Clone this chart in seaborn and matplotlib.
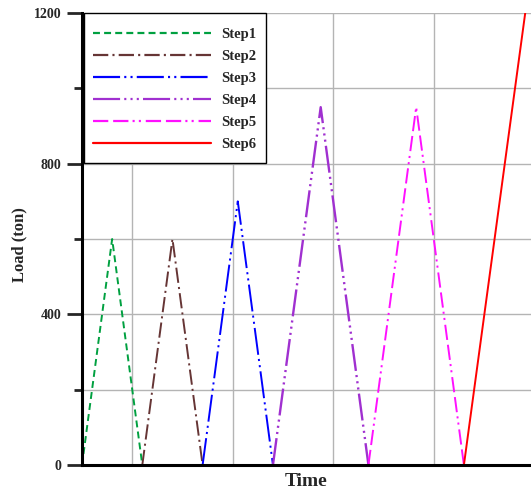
import matplotlib
matplotlib.use("Agg")
import matplotlib.pyplot as plt
import seaborn as sns
import pandas as pd

steps = ["Step1", "Step2", "Step3", "Step4", "Step5", "Step6"]
step_time = [[0, 6, 12], [12, 18, 24], [24, 31, 38], [38, 47.5, 57], [57, 66.5, 76], [76, 88.2]]
step_load = [[0, 600, 0], [0, 600, 0], [0, 700, 0], [0, 950, 0], [0, 950, 0], [0, 1200]]
colors = ["#00a040", "#663535", "#0000ff", "#a030d0", "#ff10ff", "#ff0000"]
yticks_major = [0, 400, 800, 1200]
yticks_minor = [200, 600, 1000]
xgrid = [10, 30, 50, 70]

rows = []
for s, ts, ls in zip(steps, step_time, step_load):
    for t, l in zip(ts, ls):
        rows.append({"Time": t, "Load": l, "Step": s})
df = pd.DataFrame(rows)

sns.set_theme(style="white")
plt.rcParams["font.family"] = ["Liberation Serif", "DejaVu Serif"]
plt.rcParams["font.weight"] = "bold"
plt.rcParams["lines.scale_dashes"] = False

dashes = {
    "Step1": (5, 3),
    "Step2": (11, 3, 1.5, 3),
    "Step3": (19.5, 3, 1.5, 3, 1.5, 3),
    "Step4": (19.5, 3, 1.5, 3, 1.5, 3, 1.5, 3),
    "Step5": (11, 3.5, 11, 3, 1.5, 3, 1.5, 3.5),
    "Step6": "",
}

fig = plt.figure(figsize=(5.31, 4.86), dpi=100)
ax = fig.add_axes([82 / 531, 21 / 486, 449 / 531, 452 / 486])

sns.lineplot(data=df, x="Time", y="Load", hue="Step", style="Step",
             palette=dict(zip(steps, colors)), dashes=dashes,
             linewidth=1.4, ax=ax, sort=False, estimator=None, legend=True)
for line in ax.get_lines():
    if line.get_color() == "#a030d0":
        line.set_linewidth(1.7)

ax.set_xlim(0, 89.35)
ax.set_ylim(0, 1200)
ax.set_yticks(yticks_major)
ax.set_yticklabels([str(v) for v in yticks_major], fontsize=10, fontweight="bold")
ax.set_yticks(yticks_minor, minor=True)
ax.set_xticks(xgrid)
ax.set_xticklabels([])
ax.tick_params(axis="x", length=0)
ax.tick_params(axis="y", which="major", length=11, width=2, direction="out", left=True, pad=4)
ax.tick_params(axis="y", which="minor", length=6, width=2, direction="out", left=True)
ax.grid(True, which="both", axis="y", color="#b4b4b4", linewidth=1)
ax.grid(True, which="major", axis="x", color="#b4b4b4", linewidth=1)
ax.set_axisbelow(True)

for sp in ["top", "right"]:
    ax.spines[sp].set_visible(False)
for sp in ["left", "bottom"]:
    ax.spines[sp].set_linewidth(2.2)
    ax.spines[sp].set_color("black")

ax.set_xlabel("Time", fontsize=14, fontweight="bold", labelpad=2)
ax.set_ylabel("Load (ton)", fontsize=12, fontweight="bold")
ax.yaxis.set_label_coords(-0.121, 0.487)

handles, labels = ax.get_legend_handles_labels()
leg = ax.legend(handles, labels, loc="upper left", bbox_to_anchor=(0.004, 1.0),
                frameon=True, fancybox=False, edgecolor="black", framealpha=1,
                handlelength=8.1, handleheight=1.85, labelspacing=0.06,
                handletextpad=0.7, borderpad=0.65, borderaxespad=0,
                prop={"family": "Liberation Serif", "weight": "bold", "size": 10.5})
leg.get_frame().set_linewidth(1.0)
for h in leg.legend_handles:
    h.set_linewidth(1.6)
    yd = h.get_ydata()
    h.set_ydata([v - 2.3 for v in yd])

fig.savefig("out.png", dpi=100)
